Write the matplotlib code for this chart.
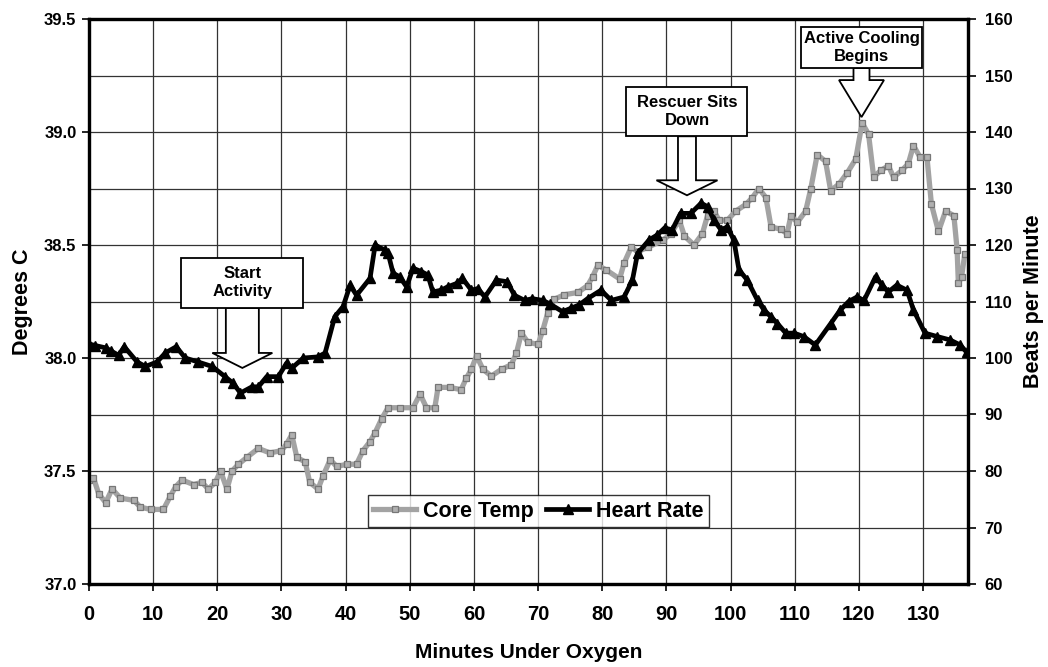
import matplotlib
matplotlib.use("Agg")
import matplotlib.pyplot as plt
import matplotlib.transforms as mtransforms
from matplotlib.patches import Polygon, Rectangle
from matplotlib.ticker import MultipleLocator

plt.rcParams['font.family'] = ['Liberation Sans', 'DejaVu Sans']
plt.rcParams['font.weight'] = 'bold'
plt.rcParams['axes.labelweight'] = 'bold'

#%% data
temp_min = [0, 0.7, 1.5, 2.6, 3.6, 4.9, 7.0, 8.0, 9.6, 11.6, 12.7, 13.5, 14.5, 16.3,
            17.6, 18.6, 19.7, 20.5, 21.5, 22.3, 23.3, 24.6, 26.4, 28.2, 30.0, 30.8,
            31.6, 32.4, 33.7, 34.4, 35.7, 36.5, 37.6, 38.6, 40.2, 41.7, 42.7, 43.8,
            44.6, 45.6, 46.6, 48.4, 50.5, 51.6, 52.6, 53.9, 54.4, 56.2, 58.0, 58.8,
            59.6, 60.4, 61.4, 62.7, 64.3, 65.8, 66.6, 67.4, 68.4, 70.0, 70.7, 71.5,
            72.5, 74.1, 76.2, 77.7, 78.5, 79.3, 80.6, 82.7, 83.4, 84.5, 85.5, 87.1,
            89.4, 90.7, 92.0, 92.8, 94.3, 95.6, 96.4, 97.4, 98.2, 99.5, 100.8, 102.4,
            103.4, 104.4, 105.5, 106.3, 107.8, 108.8, 109.4, 110.4, 111.7, 112.5,
            113.5, 114.8, 115.6, 116.9, 118.2, 119.5, 120.5, 121.5, 122.3, 123.4,
            124.6, 125.4, 126.7, 127.7, 128.5, 129.5, 130.6, 131.3, 132.4, 133.5,
            134.8, 135.3, 135.5, 136.0, 136.5]
core_temp = [37.46, 37.47, 37.40, 37.36, 37.42, 37.38, 37.37, 37.34, 37.33, 37.33,
             37.39, 37.43, 37.46, 37.44, 37.45, 37.42, 37.45, 37.50, 37.42, 37.50,
             37.53, 37.56, 37.60, 37.58, 37.59, 37.62, 37.66, 37.56, 37.54, 37.45,
             37.42, 37.48, 37.55, 37.52, 37.53, 37.53, 37.59, 37.63, 37.67, 37.73,
             37.78, 37.78, 37.78, 37.84, 37.78, 37.78, 37.87, 37.87, 37.86, 37.91,
             37.95, 38.01, 37.95, 37.92, 37.95, 37.97, 38.02, 38.11, 38.07, 38.06,
             38.12, 38.20, 38.26, 38.28, 38.29, 38.32, 38.36, 38.41, 38.39, 38.35,
             38.42, 38.49, 38.47, 38.49, 38.52, 38.55, 38.61, 38.54, 38.50, 38.55,
             38.63, 38.65, 38.61, 38.61, 38.65, 38.68, 38.71, 38.75, 38.71, 38.58,
             38.57, 38.55, 38.63, 38.60, 38.65, 38.75, 38.90, 38.87, 38.74, 38.77,
             38.82, 38.88, 39.04, 38.99, 38.80, 38.83, 38.85, 38.80, 38.83, 38.86,
             38.94, 38.89, 38.89, 38.68, 38.56, 38.65, 38.63, 38.48, 38.33, 38.36,
             38.46]

hr_min = [0, 1.0, 2.6, 3.5, 4.6, 5.5, 7.5, 8.8, 10.6, 11.9, 13.6, 15.0, 17.0, 19.2,
          21.2, 22.5, 23.6, 25.4, 26.4, 27.7, 29.5, 30.8, 31.6, 33.4, 35.7, 36.8,
          38.3, 39.6, 40.7, 41.7, 43.8, 44.6, 46.1, 46.6, 47.4, 48.4, 49.5, 50.5,
          51.8, 52.8, 53.6, 54.9, 55.9, 57.3, 58.2, 59.6, 60.6, 61.7, 63.5, 65.2,
          66.3, 67.9, 69.1, 70.7, 71.8, 73.8, 75.1, 76.4, 77.7, 79.8, 81.4, 83.4,
          84.7, 85.5, 87.3, 88.6, 89.7, 90.9, 92.2, 93.8, 95.4, 96.4, 97.4, 98.5,
          99.5, 100.5, 101.3, 102.6, 104.2, 105.2, 106.3, 107.3, 108.6, 109.9,
          111.4, 113.2, 115.6, 117.1, 118.4, 119.7, 120.8, 122.6, 123.6, 124.6,
          125.9, 127.5, 128.5, 130.3, 132.2, 134.2, 135.8, 136.8]
heart_rate = [102.5, 102.2, 101.8, 101.2, 100.5, 102.0, 99.3, 98.5, 99.3, 100.9,
              102.0, 100.0, 99.3, 98.5, 96.7, 95.5, 93.8, 94.9, 94.9, 96.7, 96.7,
              99.1, 98.2, 100.0, 100.2, 100.9, 107.3, 109.1, 112.9, 111.1, 114.1,
              120.0, 119.1, 118.6, 115.0, 114.4, 112.6, 115.9, 115.3, 114.7, 111.7,
              112.0, 112.6, 113.2, 114.1, 112.0, 112.3, 110.8, 113.8, 113.5, 111.1,
              110.2, 110.5, 110.2, 109.6, 108.2, 108.8, 109.4, 110.5, 112.0, 110.2,
              110.8, 113.8, 118.5, 120.9, 121.8, 123.0, 122.7, 125.6, 125.6, 127.4,
              126.8, 124.4, 122.7, 123.2, 120.9, 115.6, 113.8, 110.2, 108.5, 107.3,
              106.1, 104.4, 104.4, 103.8, 102.3, 106.1, 108.5, 110.0, 110.8, 110.2,
              114.4, 112.9, 111.7, 112.9, 112.0, 108.5, 104.4, 103.8, 103.2, 102.3,
              101.0]

# callouts: label, minute, degrees C at arrow tip
note_text = ['Start\nActivity', 'Rescuer Sits\nDown', 'Active Cooling\nBegins']
note_min = [23.9, 93.2, 120.4]
note_deg = [37.956, 38.72, 39.066]

#%% plot
fig = plt.figure(figsize=(10.48, 6.67), dpi=100)
ax = fig.add_axes([89/1048, 83/667, 879/1048, 565/667])
ax2 = ax.twinx()

ax.set_xlim(0, 137)
ax.set_ylim(37.0, 39.5)
ax2.set_ylim(60, 160)

ax.xaxis.set_major_locator(MultipleLocator(10))
ax.yaxis.set_major_locator(MultipleLocator(0.5))
ax.yaxis.set_minor_locator(MultipleLocator(0.25))
ax2.yaxis.set_major_locator(MultipleLocator(10))
ax.yaxis.set_major_formatter(plt.FormatStrFormatter('%.1f'))

ax.grid(True, which='both', color='#333333', lw=0.9)
ax.set_axisbelow(True)
ax.tick_params(which='minor', length=0)
ax.tick_params(axis='y', which='major', direction='out', length=5, width=1.2,
               labelsize=12, pad=4)
ax.tick_params(axis='x', direction='out', length=5, width=1.2, labelsize=14.5, pad=10)
ax2.tick_params(axis='y', direction='out', length=6, width=1.2, labelsize=12, pad=6)
for a in (ax, ax2):
    for s in a.spines.values():
        s.set_linewidth(2.3)

ax.plot(temp_min, core_temp, color='#a3a3a3', lw=3.8, marker='s', ms=5,
        mfc='#b0b0b0', mec='#777777', mew=0.9, label='Core Temp', zorder=3)
ax2.plot(hr_min, heart_rate, color='black', lw=3.4, marker='^', ms=6.5,
         label='Heart Rate', zorder=3)

ax.set_xlabel('Minutes Under Oxygen', fontsize=15, labelpad=14)
ax.set_ylabel('Degrees C', fontsize=15.5, labelpad=8)
ax2.set_ylabel('Beats per Minute', fontsize=15.5, labelpad=8)

h1, l1 = ax.get_legend_handles_labels()
h2, l2 = ax2.get_legend_handles_labels()
leg = ax2.legend(h1 + h2, l1 + l2, ncol=2, loc='center',
                 bbox_to_anchor=(0.511, 0.129), fontsize=15.5, frameon=True,
                 fancybox=False, edgecolor='black', handlelength=2.0,
                 handletextpad=0.3, columnspacing=0.6, borderpad=0.25,
                 borderaxespad=0)
leg.get_frame().set_linewidth(1.0)

# block-arrow callouts, shapes in pixels relative to the arrow tip
box_w = [122, 121, 121]
box_h = [50, 49, 41]
box_gap = [60, 59, 49]
shaft_w = [33, 18, 16]
head_w = [60, 61, 45]
head_h = [15, 15, 37]
px = mtransforms.Affine2D().scale(1 / fig.dpi) + fig.dpi_scale_trans
for i in range(len(note_text)):
    tr = px + mtransforms.ScaledTranslation(note_min[i], note_deg[i], ax.transData)
    sw, hw, hh, g = shaft_w[i] / 2, head_w[i] / 2, head_h[i], box_gap[i]
    arrow = [(-sw, g), (-sw, hh), (-hw, hh), (0, 0), (hw, hh), (sw, hh), (sw, g)]
    ax2.add_patch(Polygon(arrow, closed=True, transform=tr, facecolor='white',
                          edgecolor='black', lw=1.3, zorder=5, clip_on=False))
    ax2.add_patch(Rectangle((-box_w[i] / 2, g), box_w[i], box_h[i], transform=tr,
                            facecolor='white', edgecolor='black', lw=1.3,
                            zorder=6, clip_on=False))
    ax2.text(0, g + box_h[i] / 2, note_text[i], transform=tr, ha='center',
             va='center', fontsize=12, linespacing=1.25, zorder=7)

fig.savefig('out.png', dpi=100, facecolor='white')
